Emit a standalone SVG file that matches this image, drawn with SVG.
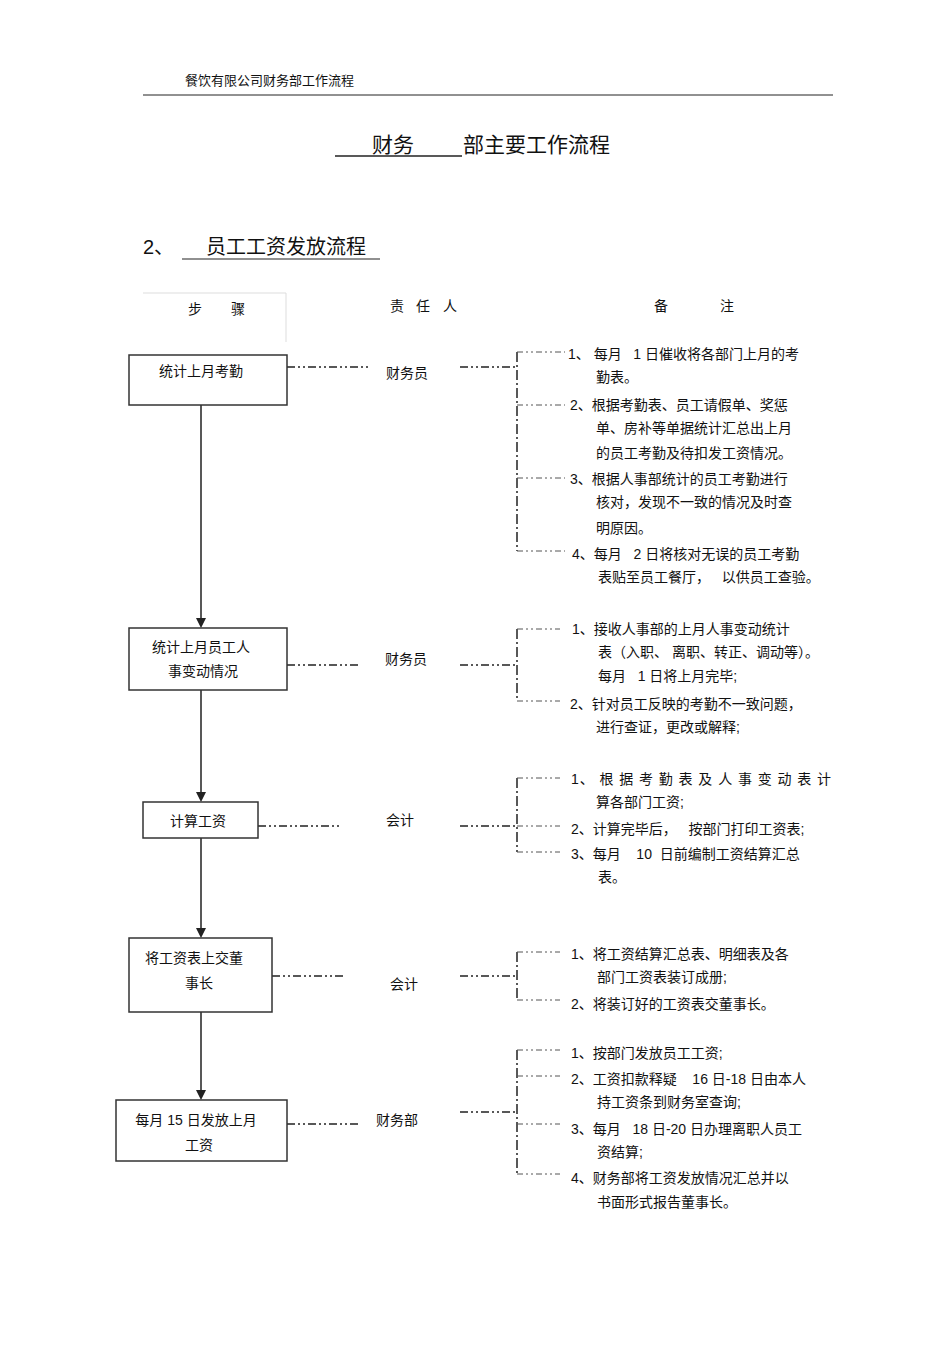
<svg xmlns="http://www.w3.org/2000/svg" width="950" height="1345" viewBox="0 0 950 1345" xml:space="preserve">
<style>
text{font-family:"Liberation Sans","Noto Sans CJK SC",sans-serif;fill:#111;font-size:14px;white-space:pre}
.c{text-anchor:middle}
.box{fill:#fff;stroke:#333;stroke-width:1.5}
.dd{stroke:#222;stroke-width:1.5;stroke-dasharray:8,3,2,3,2,3;fill:none}
.br{stroke:#222;stroke-width:1.5;stroke-dasharray:10,3,2,3;fill:none}
.bt{stroke:#555;stroke-width:1;stroke-dasharray:6,3,2,3,2,3;fill:none}
.ln{stroke:#222;stroke-width:1.5}
.ah{fill:#222}
</style>
<rect width="950" height="1345" fill="#fff"/>
<text x="185" y="85" style="font-size:13px">餐饮有限公司财务部工作流程</text>
<line x1="143" y1="95" x2="833" y2="95" stroke="#222"/>
<text x="372" y="152" style="font-size:21px">财务</text>
<text x="463" y="152" style="font-size:21px">部主要工作流程</text>
<line x1="335" y1="156" x2="462" y2="156" stroke="#222" stroke-width="1.5"/>
<text x="143" y="254" style="font-size:20px">2、</text>
<text x="206" y="254" style="font-size:20px">员工工资发放流程</text>
<line x1="182" y1="259" x2="380" y2="259" stroke="#222" stroke-width="1.2"/>
<line x1="143" y1="293" x2="286" y2="293" stroke="#ddd"/>
<line x1="286" y1="293" x2="286" y2="342" stroke="#ddd"/>
<text x="188" y="314">步</text><text x="231" y="314">骤</text>
<text x="390" y="311">责</text><text x="416" y="311">任</text><text x="443" y="311">人</text>
<text x="654" y="311">备</text><text x="720" y="311">注</text>
<g id="connectors">
<path class="ln" d="M201 405V620M201 690V794M201 838V930M201 1012V1092"/>
<path class="ah" d="M196 618H206L201 628zM196 792H206L201 802zM196 928H206L201 938zM196 1090H206L201 1100z"/>
<path class="dd" d="M287 367H370M460 367H517M287 665H358M460 665H517M258 826H340M460 826H517M272 976H344M460 976H517M287 1124H358M460 1112H517"/>
<path class="br" d="M517 352V551M517 629V701M517 778V852M517 952V1000M517 1050V1174"/>
<path class="bt" d="M517 352H565M517 405H565M517 478H565M517 551H565M517 629H560M517 701H560M517 778H560M517 826H560M517 852H560M517 952H560M517 1000H560M517 1050H560M517 1076H560M517 1124H560M517 1174H560"/>
</g>
<g id="n1"><rect class="box" x="129" y="355" width="158" height="50"/><text class="c" x="201" y="376">统计上月考勤</text></g>
<g id="n2"><rect class="box" x="129" y="628" width="158" height="62"/><text class="c" x="201" y="652">统计上月员工人</text><text class="c" x="203" y="676">事变动情况</text></g>
<g id="n3"><rect class="box" x="143" y="802" width="115" height="36"/><text class="c" x="198" y="826">计算工资</text></g>
<g id="n4"><rect class="box" x="129" y="938" width="143" height="74"/><text class="c" x="194" y="963">将工资表上交董</text><text class="c" x="199" y="988">事长</text></g>
<g id="n5"><rect class="box" x="116" y="1100" width="171" height="61"/><text class="c" x="196" y="1125">每月 15 日发放上月</text><text class="c" x="199" y="1150">工资</text></g>
<g id="r"><text x="386" y="378">财务员</text><text x="385" y="664">财务员</text><text x="386" y="825">会计</text><text x="390" y="989">会计</text><text x="376" y="1125">财务部</text></g>
<g id="notes">
<text x="568" y="359">1、 每月   1 日催收将各部门上月的考</text>
<text x="596" y="382">勤表。</text>
<text x="570" y="410">2、根据考勤表、员工请假单、奖惩</text>
<text x="596" y="433">单、房补等单据统计汇总出上月</text>
<text x="596" y="458">的员工考勤及待扣发工资情况。</text>
<text x="570" y="484">3、根据人事部统计的员工考勤进行</text>
<text x="596" y="507">核对，发现不一致的情况及时查</text>
<text x="596" y="533">明原因。</text>
<text x="572" y="559">4、每月   2 日将核对无误的员工考勤</text>
<text x="598" y="582">表贴至员工餐厅，   以供员工查验。</text>
<text x="572" y="634">1、接收人事部的上月人事变动统计</text>
<text x="598" y="657">表（入职、 离职、转正、调动等）。</text>
<text x="598" y="681">每月   1 日将上月完毕;</text>
<text x="570" y="709">2、针对员工反映的考勤不一致问题，</text>
<text x="596" y="732">进行查证，更改或解释;</text>
<text x="571" y="784" textLength="260">1、 根 据 考 勤 表 及 人 事 变 动 表 计</text>
<text x="596" y="807">算各部门工资;</text>
<text x="571" y="834">2、计算完毕后，   按部门打印工资表;</text>
<text x="571" y="859">3、每月    10  日前编制工资结算汇总</text>
<text x="598" y="882">表。</text>
<text x="571" y="959">1、将工资结算汇总表、明细表及各</text>
<text x="597" y="982">部门工资表装订成册;</text>
<text x="571" y="1009">2、将装订好的工资表交董事长。</text>
<text x="571" y="1058">1、按部门发放员工工资;</text>
<text x="571" y="1084">2、工资扣款释疑    16 日-18 日由本人</text>
<text x="597" y="1107">持工资条到财务室查询;</text>
<text x="571" y="1134">3、每月   18 日-20 日办理离职人员工</text>
<text x="597" y="1157">资结算;</text>
<text x="571" y="1183">4、财务部将工资发放情况汇总并以</text>
<text x="597" y="1207">书面形式报告董事长。</text>
</g>
</svg>
